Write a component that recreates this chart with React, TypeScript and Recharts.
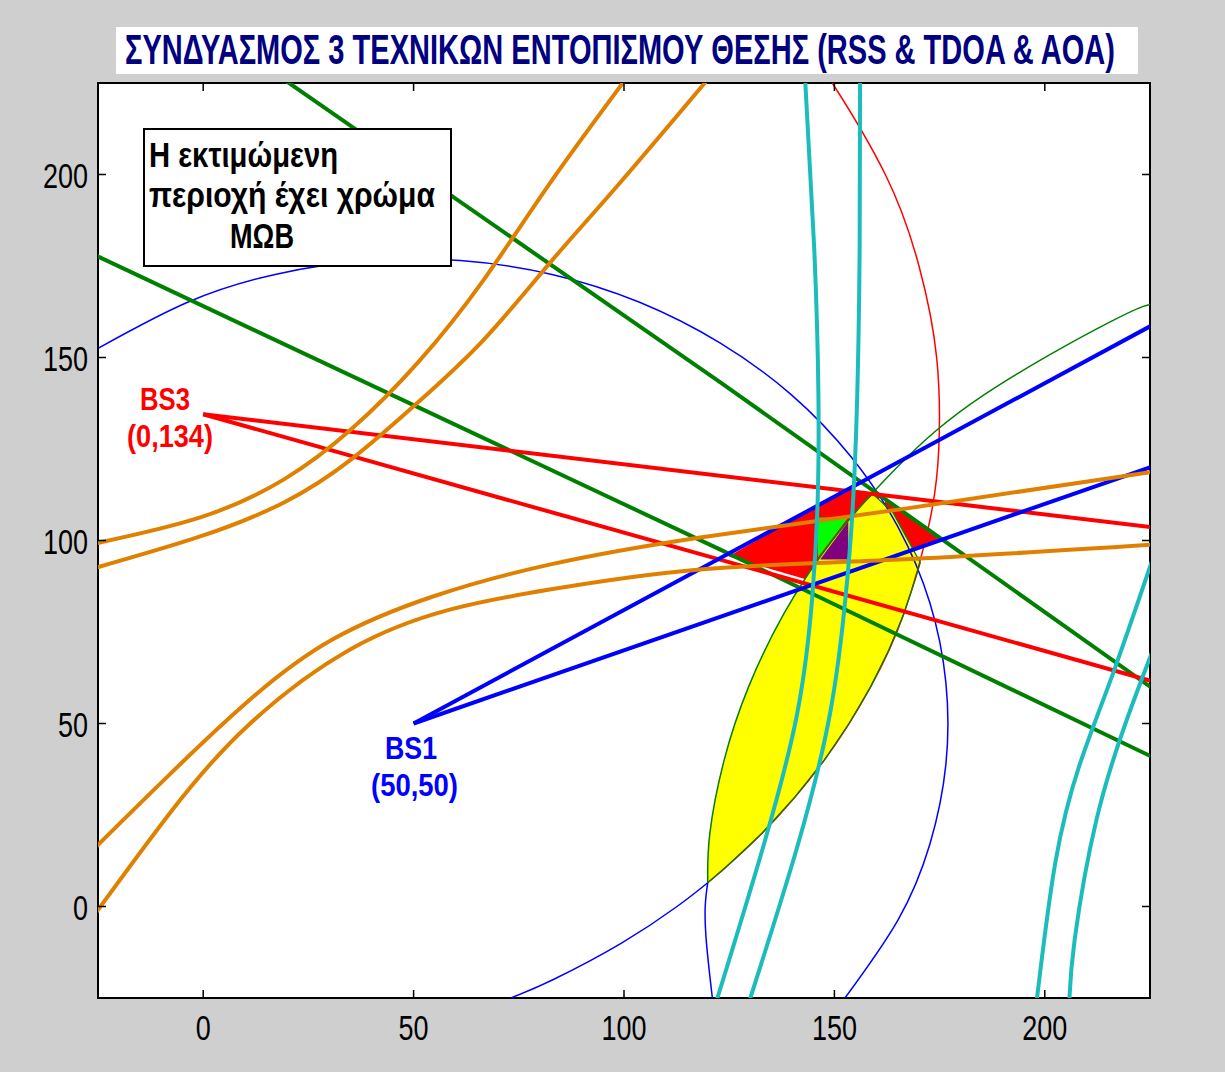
import React from "react";
import {
  ComposedChart,
  Line,
  Area,
  XAxis,
  YAxis,
  CartesianGrid,
  ReferenceArea,
} from "recharts";

const W = 1225;
const H = 1072;
const PLOT_TOP = 83;
const PLOT_BOTTOM = 998;
const PLOT_LEFT = 98;
const PLOT_RIGHT = 1150;

const X_TICKS = [0, 50, 100, 150, 200];
const Y_TICKS = [0, 50, 100, 150, 200];

// AOA lines from BS1 (blue) and BS3 (red)
const bs1Upper = [{ x: 50, y: 50 }, { x: 230, y: 161.6 }];
const bs1Lower = [{ x: 50, y: 50 }, { x: 230, y: 122 }];
const bs3Upper = [{ x: 0, y: 134.5 }, { x: 230, y: 103 }];
const bs3Lower = [{ x: 0, y: 134.5 }, { x: 230, y: 60.1 }];

// AOA lines of the third station (green)
const greenA = [{ x: 18, y: 226.9 }, { x: 122.9, y: 143.2 }, { x: 230, y: 56 }];
const greenB = [{ x: -30, y: 180.3 }, { x: 122.9, y: 97.5 }, { x: 230, y: 38.4 }];

// RSS circles
const blueCircle = [
  { x: -25, y: 152.5 }, { x: -3.7, y: 165.1 }, { x: 17.1, y: 172.7 }, { x: 38.9, y: 176.5 },
  { x: 61.1, y: 176.5 }, { x: 82.9, y: 172.7 }, { x: 103.7, y: 165.1 }, { x: 122.8, y: 154 },
  { x: 139.8, y: 139.8 }, { x: 154, y: 122.8 }, { x: 165.1, y: 103.7 }, { x: 172.7, y: 82.9 },
  { x: 176.5, y: 61.1 }, { x: 176.5, y: 38.9 }, { x: 172.7, y: 17.1 }, { x: 165.1, y: -3.7 },
  { x: 152.5, y: -25 },
];
const redCircle = [
  { x: 146.3, y: 230 }, { x: 149.5, y: 225 }, { x: 162.1, y: 200 }, { x: 170.1, y: 175 },
  { x: 174.3, y: 150 }, { x: 174.8, y: 125 }, { x: 172.6, y: 105 }, { x: 166.5, y: 80 },
  { x: 158.6, y: 60 }, { x: 147.6, y: 40 }, { x: 132.8, y: 20 }, { x: 119.9, y: 6.5 },
];
const redCircleLow = [
  { x: 119.9, y: 6.5 }, { x: 112.6, y: 0 }, { x: 99.4, y: -10 }, { x: 83.1, y: -20 }, { x: 73.1, y: -25 },
];
const greenCircle = [
  { x: 119.9, y: 6.5 }, { x: 120.4, y: 20 }, { x: 123.8, y: 40 }, { x: 129.6, y: 60 },
  { x: 138, y: 80 }, { x: 149.5, y: 100 }, { x: 164.9, y: 120 }, { x: 185.8, y: 140 },
  { x: 216, y: 160 }, { x: 226, y: 164.7 },
];
const greenCircleLow = [
  { x: 119.9, y: 6.5 }, { x: 119.3, y: 0 }, { x: 119.6, y: -10 }, { x: 121, y: -25 },
];
const lensEdge = [
  { x: 159.2, y: 112.6 }, { x: 163.9, y: 107.7 }, { x: 170.4, y: 94 }, { x: 169.4, y: 90 },
  { x: 166.5, y: 80 }, { x: 162.9, y: 70 }, { x: 158.6, y: 60 }, { x: 153.5, y: 50 },
  { x: 147.6, y: 40 }, { x: 140.7, y: 30 }, { x: 132.8, y: 20 }, { x: 123.5, y: 10 },
  { x: 119.9, y: 6.5 },
];

// TDOA hyperbolas (orange pairs)
const orange1a = [
  { x: -26, y: 99.1 }, { x: -0.7, y: 106.3 }, { x: 19.2, y: 116.7 }, { x: 35.1, y: 130.3 },
  { x: 51, y: 148.6 }, { x: 66.7, y: 171.3 }, { x: 82.5, y: 197.8 }, { x: 101, y: 227 },
];
const orange1b = [
  { x: -26, y: 92.4 }, { x: -0.7, y: 101.1 }, { x: 19.2, y: 110.4 }, { x: 35.1, y: 122.1 },
  { x: 51, y: 137.7 }, { x: 66.7, y: 154.9 }, { x: 82.5, y: 176 }, { x: 98.5, y: 197 },
  { x: 120.5, y: 226.8 },
];
const orange2a = [
  { x: -26, y: 15.7 }, { x: -8.5, y: 35.5 }, { x: 11.2, y: 56.6 }, { x: 30.8, y: 73 },
  { x: 54.6, y: 84.7 }, { x: 82.3, y: 93.4 }, { x: 118.1, y: 100.8 }, { x: 165.6, y: 108.5 },
  { x: 227, y: 119 },
];
const orange2b = [
  { x: -26, y: -2.5 }, { x: -7.8, y: 25.7 }, { x: 10.4, y: 49.2 }, { x: 34.9, y: 70.2 },
  { x: 58.6, y: 81.1 }, { x: 82.3, y: 86.6 }, { x: 118.1, y: 92.1 }, { x: 165.6, y: 94.8 },
  { x: 227, y: 99 },
];

// TDOA hyperbolas (cyan pairs)
const cyan1 = [
  { x: 143, y: 227 }, { x: 145.2, y: 180 }, { x: 146.2, y: 140 }, { x: 146, y: 110 },
  { x: 144.7, y: 84 }, { x: 141.2, y: 53 }, { x: 133.1, y: 16.4 }, { x: 121.8, y: -26.5 },
];
const cyan2 = [
  { x: 156.1, y: 227 }, { x: 156, y: 180 }, { x: 155.4, y: 138.5 }, { x: 154.3, y: 108 },
  { x: 152.6, y: 83.9 }, { x: 149, y: 53 }, { x: 141.2, y: 16.4 }, { x: 129.6, y: -26.5 },
];
const cyan3 = [
  { x: 225.5, y: 94.5 }, { x: 216, y: 63 }, { x: 208.3, y: 38.8 }, { x: 202.5, y: 12 },
  { x: 198, y: -26.5 },
];
const cyan4 = [
  { x: 225.5, y: 69.5 }, { x: 219.5, y: 51.1 }, { x: 212.3, y: 23.8 }, { x: 207.1, y: -9 },
  { x: 205.8, y: -26.5 },
];

// filled regions: [low, high] per x
const redWedge = [
  { x: 124.8, r: [95.6, 95.6] },
  { x: 144.2, r: [89.1, 108.3] },
  { x: 153.3, r: [101.4, 114.2] },
  { x: 161.3, r: [112.3, 112.3] },
];
const redPatch = [
  { x: 162, r: [99, 110.8] },
  { x: 168.5, r: [97.4, 105.6] },
  { x: 175.3, r: [100.1, 100.1] },
];
const yellowLens = [
  { x: 119.8, r: [6.5, 6.6] },
  { x: 120.2, r: [6.7, 18] },
  { x: 121, r: [7.6, 24.7] },
  { x: 122, r: [8.5, 31.1] },
  { x: 125, r: [11.5, 45] },
  { x: 130, r: [16.8, 61.3] },
  { x: 135, r: [22.6, 73.7] },
  { x: 140, r: [29, 84] },
  { x: 145, r: [36, 92.9] },
  { x: 150, r: [43.9, 100.8] },
  { x: 155, r: [52.8, 107.8] },
  { x: 159.2, r: [61.3, 112.6] },
  { x: 163.9, r: [72.7, 107.7] },
  { x: 167, r: [81.7, 101.2] },
  { x: 169.9, r: [92.1, 95.1] },
  { x: 170.4, r: [94, 94] },
];
const limeCell = [
  { x: 146.1, r: [95.4, 106.3] },
  { x: 153.3, r: [106.3, 106.3] },
];
const purpleCell = [
  { x: 146.6, r: [94.8, 94.8] },
  { x: 153.3, r: [94.8, 105.2] },
];

const ORANGE = "#e08000";
const CYAN = "#1cbcbc";
const GREEN = "#008000";

const TICK_FONT = "'Liberation Sans', Arial, sans-serif";

const XTick = (props: any) => {
  const { x, payload } = props;
  return (
    <g>
      <line x1={x} x2={x} y1={PLOT_BOTTOM} y2={PLOT_BOTTOM - 8} stroke="#000" strokeWidth={1.5} />
      <line x1={x} x2={x} y1={PLOT_TOP} y2={PLOT_TOP + 8} stroke="#000" strokeWidth={1.5} />
      <text
        transform={`translate(${x},1040) scale(1,1.3)`}
        textAnchor="middle"
        fontSize={27}
        fontFamily={TICK_FONT}
        fill="#000"
      >
        {payload.value}
      </text>
    </g>
  );
};

const YTick = (props: any) => {
  const { y, payload } = props;
  return (
    <g>
      <line x1={PLOT_LEFT} x2={PLOT_LEFT + 8} y1={y} y2={y} stroke="#000" strokeWidth={1.5} />
      <line x1={PLOT_RIGHT} x2={PLOT_RIGHT - 8} y1={y} y2={y} stroke="#000" strokeWidth={1.5} />
      <text
        transform={`translate(88,${y + 13}) scale(1,1.3)`}
        textAnchor="end"
        fontSize={27}
        fontFamily={TICK_FONT}
        fill="#000"
      >
        {payload.value}
      </text>
    </g>
  );
};

const LABEL_FONT = "'Liberation Sans', Arial, sans-serif";

function Txt({ x, y, len, size, color, children, sy = 1.35 }: any) {
  return (
    <text
      transform={`translate(${x},${y}) scale(1,${sy})`}
      textLength={len}
      lengthAdjust="spacingAndGlyphs"
      fontSize={size}
      fontWeight="bold"
      fontFamily={LABEL_FONT}
      fill={color}
    >
      {children}
    </text>
  );
}

export default function App() {
  const curve = (data: any[], color: string, type: any = "natural", w = 1.5) => (
    <Line
      data={data}
      dataKey="y"
      type={type}
      stroke={color}
      strokeWidth={w}
      dot={false}
      activeDot={false}
      isAnimationActive={false}
    />
  );
  const fillArea = (data: any[], color: string) => (
    <Area
      data={data}
      dataKey="r"
      type="linear"
      stroke="none"
      fill={color}
      fillOpacity={1}
      dot={false}
      activeDot={false}
      isAnimationActive={false}
    />
  );

  return (
    <div
      style={{
        position: "absolute",
        left: 0,
        top: 0,
        width: W,
        height: H,
        background: "#cfcfcf",
        overflow: "hidden",
      }}
    >
      <ComposedChart
        width={W}
        height={H}
        margin={{ top: PLOT_TOP, right: W - PLOT_RIGHT, bottom: 14, left: 10 }}
      >
        <CartesianGrid fill="#ffffff" horizontal={false} vertical={false} />
        <XAxis
          dataKey="x"
          type="number"
          domain={[-25, 225]}
          allowDataOverflow
          ticks={X_TICKS}
          tick={<XTick />}
          tickLine={false}
          axisLine={false}
          height={60}
        />
        <YAxis
          type="number"
          domain={[-25, 225]}
          allowDataOverflow
          ticks={Y_TICKS}
          tick={<YTick />}
          tickLine={false}
          axisLine={false}
          width={88}
        />

        {fillArea(redWedge, "#ff0000")}
        {fillArea(redPatch, "#ff0000")}
        {fillArea(yellowLens, "#ffff00")}
        {fillArea(limeCell, "#00ff00")}
        {fillArea(purpleCell, "#800080")}

        {curve(blueCircle, "#0000ff")}
        {curve(redCircle, "#ff0000")}
        {curve(redCircleLow, "#0000ff")}
        {curve(greenCircle, GREEN)}
        {curve(greenCircleLow, "#0000ff")}
        {curve(lensEdge, GREEN, "linear", 1.3)}

        {curve(greenA, GREEN, "linear", 4)}
        {curve(greenB, GREEN, "linear", 4)}
        {curve(bs3Upper, "#ff0000", "linear", 4)}
        {curve(bs3Lower, "#ff0000", "linear", 4)}
        {curve(bs1Upper, "#0000ff", "linear", 4)}
        {curve(bs1Lower, "#0000ff", "linear", 4)}

        {curve(orange1a, ORANGE, "natural", 4)}
        {curve(orange1b, ORANGE, "natural", 4)}
        {curve(orange2a, ORANGE, "natural", 4)}
        {curve(orange2b, ORANGE, "natural", 4)}

        {curve(cyan1, CYAN, "natural", 4)}
        {curve(cyan2, CYAN, "natural", 4)}
        {curve(cyan3, CYAN, "natural", 4)}
        {curve(cyan4, CYAN, "natural", 4)}

        <ReferenceArea
          x1={-25}
          x2={225}
          y1={-25}
          y2={225}
          fill="none"
          fillOpacity={0}
          stroke="#000"
          strokeWidth={2}
          ifOverflow="visible"
        />
      </ComposedChart>

      <svg
        width={W}
        height={H}
        style={{ position: "absolute", left: 0, top: 0, pointerEvents: "none" }}
      >
        <rect x={116} y={27} width={1022} height={47} fill="#ffffff" />
        <Txt x={125} y={64} len={990} size={26} sy={1.6} color="#000080">
          ΣΥΝΔΥΑΣΜΟΣ 3 ΤΕΧΝΙΚΩΝ ΕΝΤΟΠΙΣΜΟΥ ΘΕΣΗΣ (RSS &amp; TDOA &amp; AOA)
        </Txt>

        <rect x={144} y={129} width={307} height={137} fill="#ffffff" stroke="#000" strokeWidth={2} />
        <Txt x={149} y={167} len={189} size={26} color="#000">Η εκτιμώμενη</Txt>
        <Txt x={149} y={207} len={286} size={26} color="#000">περιοχή έχει χρώμα</Txt>
        <Txt x={230} y={248} len={64} size={26} color="#000">ΜΩΒ</Txt>

        <Txt x={140} y={410} len={50} size={23} color="#ff0000">BS3</Txt>
        <Txt x={127} y={447} len={86} size={23} color="#ff0000">(0,134)</Txt>
        <Txt x={385} y={759} len={52} size={23} color="#0000ff">BS1</Txt>
        <Txt x={371} y={796} len={87} size={23} color="#0000ff">(50,50)</Txt>
      </svg>
    </div>
  );
}
